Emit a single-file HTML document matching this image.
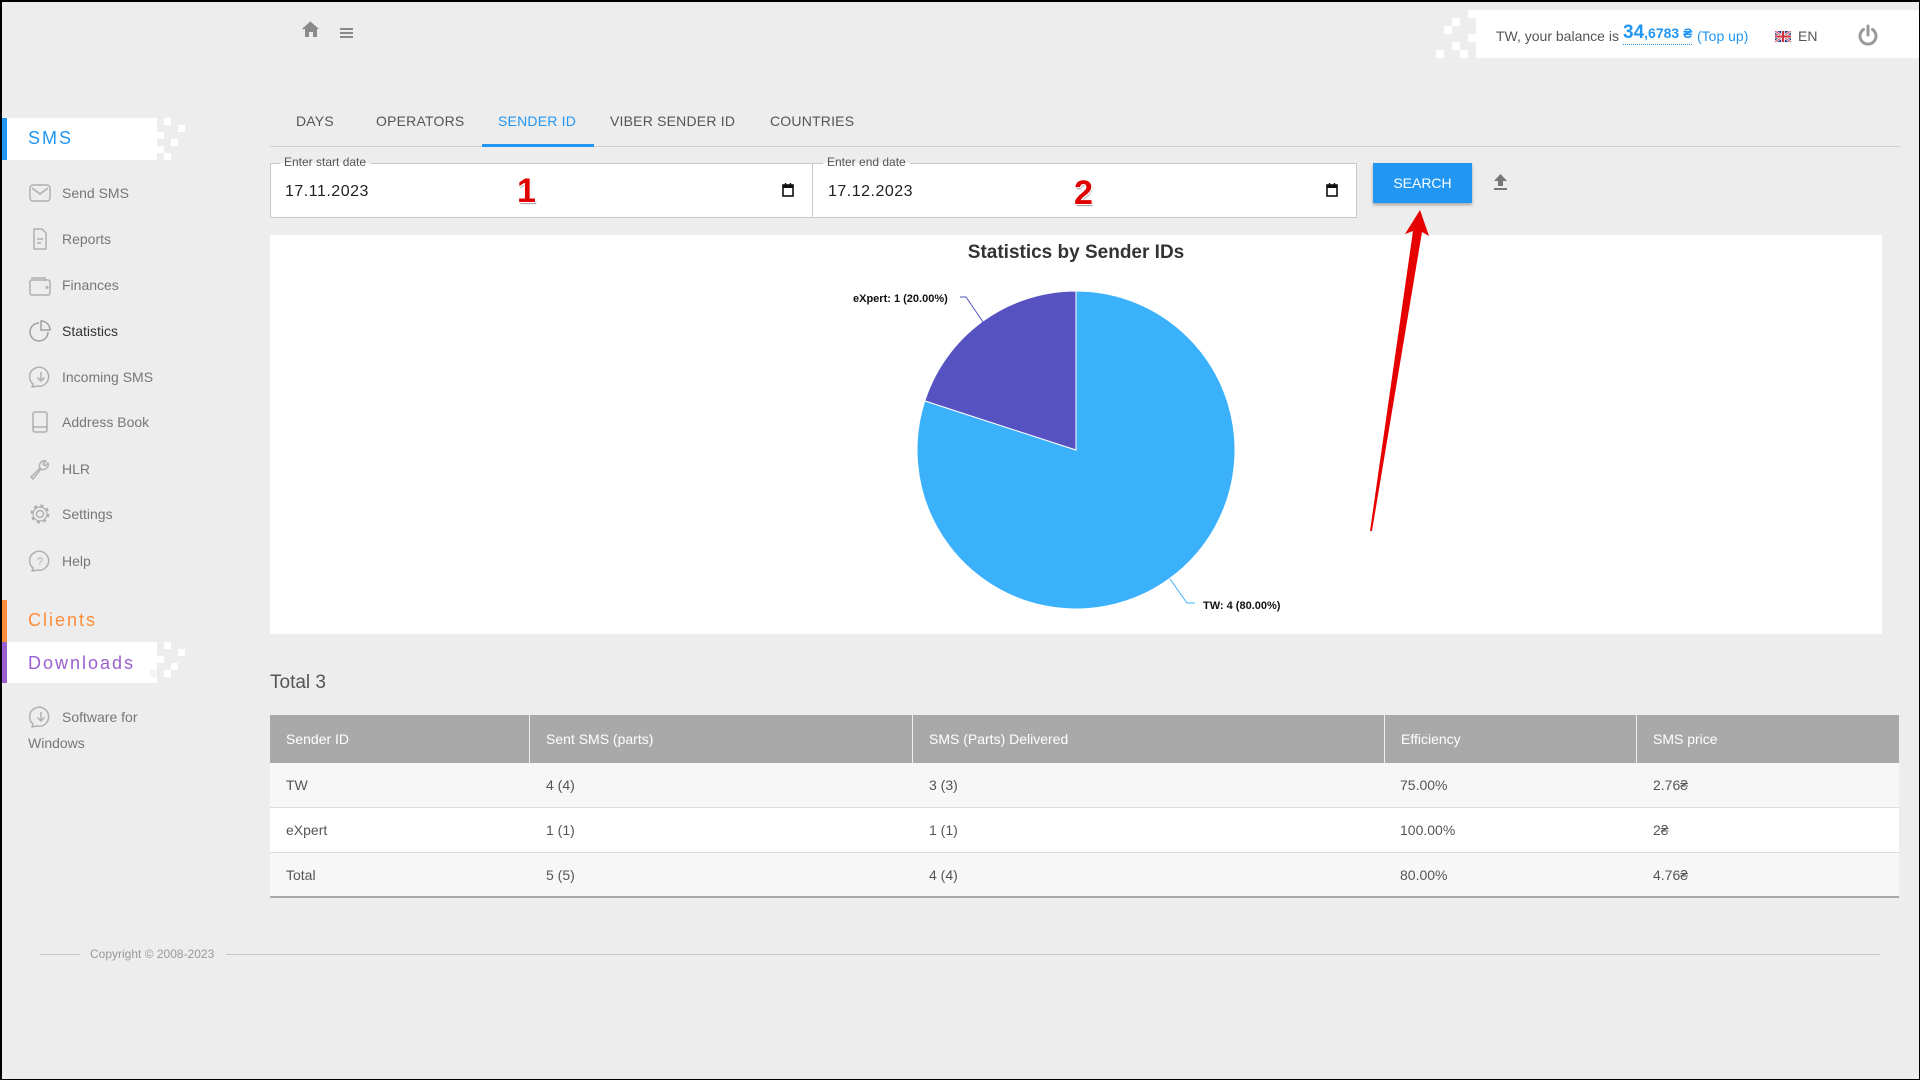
<!DOCTYPE html>
<html><head><meta charset="utf-8">
<style>
*{margin:0;padding:0;box-sizing:border-box}
html,body{width:1920px;height:1080px;overflow:hidden}
body{background:#ededed;font-family:"Liberation Sans",Arial,sans-serif;position:relative;color:#555}
.a{position:absolute}
.frame{position:absolute;left:0;top:0;width:1920px;height:1080px;border:1px solid #000;border-width:2px 1px 1px 2px;pointer-events:none;z-index:50}
.sq{position:absolute;background:#fff}
.nav{position:absolute;left:62px;font-size:14px;color:#777;line-height:16px}
.ico{position:absolute;left:29px;width:22px;height:22px}
.tab{position:absolute;top:113px;font-size:14px;color:#555;line-height:16px;letter-spacing:0.2px}
.inp{position:absolute;top:163px;height:55px;background:#fff;border:1px solid #c9c9c9}
.lbl{position:absolute;top:155px;font-size:12px;color:#555;padding:0 4px;line-height:15px;background:linear-gradient(#ededed 53%,#fff 53%)}
.val{position:absolute;top:183px;font-size:16px;color:#222;letter-spacing:0.5px;line-height:18px}
.num{position:absolute;font-size:34px;font-weight:bold;color:#e00000;line-height:34px;text-shadow:1px 1px 0 #fff,-1px 1px 0 #fff,1px 2px 1px #999}
.th{position:absolute;top:715px;height:48px;background:#a9a9a9;color:#fff;font-size:14px;line-height:48px;padding-left:16px}
.row{position:absolute;left:270px;width:1629px;height:45px;border-bottom:1px solid #dcdcdc}
.cell{position:absolute;font-size:14px;color:#555;line-height:45px}
</style></head><body>
<div class="frame"></div>

<svg class="a" style="left:302px;top:21px" width="18" height="17" viewBox="0 0 18 17">
<path d="M9 1 L1 8 L3 8 L3 16 L7 16 L7 11 L11 11 L11 16 L15 16 L15 8 L17 8 Z" fill="#8a8a8a"/>
<path d="M9 1 L1 8" stroke="#8a8a8a" stroke-width="1.5"/>
</svg>
<div class="a" style="left:340px;top:28px;width:13px;height:2px;background:#8a8a8a"></div>
<div class="a" style="left:340px;top:32px;width:13px;height:2px;background:#8a8a8a"></div>
<div class="a" style="left:340px;top:36px;width:13px;height:2px;background:#8a8a8a"></div>

<div class="a" style="left:1476px;top:10px;width:444px;height:48px;background:#fff"></div>
<div class="sq" style="left:1468px;top:10px;width:8px;height:8px"></div>
<div class="sq" style="left:1452px;top:18px;width:8px;height:8px"></div>
<div class="sq" style="left:1444px;top:26px;width:8px;height:8px"></div>
<div class="sq" style="left:1468px;top:34px;width:8px;height:8px"></div>
<div class="sq" style="left:1452px;top:42px;width:8px;height:8px"></div>
<div class="sq" style="left:1436px;top:50px;width:8px;height:8px"></div>
<div class="sq" style="left:1460px;top:50px;width:8px;height:8px"></div>
<div class="a" style="left:1496px;top:28px;font-size:14px;color:#555;line-height:16px;white-space:nowrap">TW, your balance is</div>
<div class="a" style="left:1623px;top:23px;line-height:20px;white-space:nowrap;color:#2196f3;font-weight:bold;border-bottom:1px dotted #2196f3"><span style="font-size:19px">34</span><span style="font-size:14px">,6783 ₴</span></div>
<div class="a" style="left:1697px;top:28px;font-size:14px;color:#2196f3;line-height:16px">(Top up)</div>
<svg class="a" style="left:1775px;top:31px" width="16" height="11" viewBox="0 0 16 11">
<rect width="16" height="11" fill="#2a3f8f"/>
<path d="M0 0 L16 11 M16 0 L0 11" stroke="#fff" stroke-width="2.4"/>
<path d="M0 0 L16 11 M16 0 L0 11" stroke="#d0323b" stroke-width="0.9"/>
<path d="M8 0 V11 M0 5.5 H16" stroke="#fff" stroke-width="3.6"/>
<path d="M8 0 V11 M0 5.5 H16" stroke="#d0323b" stroke-width="2"/>
</svg>
<div class="a" style="left:1798px;top:28px;font-size:14px;color:#555;line-height:16px">EN</div>
<svg class="a" style="left:1857px;top:24px" width="22" height="22" viewBox="0 0 22 22">
<path d="M6.5 5.5 A8 8 0 1 0 15.5 5.5" fill="none" stroke="#999" stroke-width="3" stroke-linecap="round"/>
<path d="M11 2 V11" stroke="#999" stroke-width="3" stroke-linecap="round"/>
</svg>

<div class="a" style="left:2px;top:118px;width:155px;height:42px;background:#fff"></div>
<div class="a" style="left:2px;top:118px;width:5px;height:42px;background:#2196f3"></div>
<div class="sq" style="left:164px;top:118px;width:7px;height:7px"></div>
<div class="sq" style="left:178px;top:125px;width:7px;height:7px"></div>
<div class="sq" style="left:157px;top:132px;width:7px;height:7px"></div>
<div class="sq" style="left:171px;top:139px;width:7px;height:7px"></div>
<div class="sq" style="left:157px;top:146px;width:7px;height:7px"></div>
<div class="sq" style="left:164px;top:153px;width:7px;height:7px"></div>
<div class="a" style="left:28px;top:127px;font-size:18px;color:#2196f3;letter-spacing:2px;line-height:22px">SMS</div>

<svg class="ico" style="top:182px" viewBox="0 0 22 22"><rect x="1" y="3" width="20" height="16" rx="3" fill="none" stroke="#b0b0b0" stroke-width="1.5"/><path d="M3 6 L11 12 L19 6" fill="none" stroke="#b0b0b0" stroke-width="1.5"/></svg>
<div class="nav" style="top:185px">Send SMS</div>
<svg class="ico" style="top:228px" viewBox="0 0 22 22"><path d="M5 1 H13 L17 5 V21 H5 Z" fill="none" stroke="#b0b0b0" stroke-width="1.5" stroke-linejoin="round"/><path d="M8 11 H14 M8 15 H12" stroke="#b0b0b0" stroke-width="1.5"/></svg>
<div class="nav" style="top:231px">Reports</div>
<svg class="ico" style="top:274px" viewBox="0 0 22 22"><path d="M2 4 H16 V7" fill="none" stroke="#b0b0b0" stroke-width="1.5"/><rect x="1" y="6" width="20" height="15" rx="2" fill="none" stroke="#b0b0b0" stroke-width="1.5"/><circle cx="18" cy="13.5" r="1.5" fill="#b0b0b0"/></svg>
<div class="nav" style="top:277px">Finances</div>
<svg class="ico" style="top:320px" viewBox="0 0 22 22"><path d="M10 3 A9 9 0 1 0 19 12" fill="none" stroke="#a0a0a0" stroke-width="1.5"/><path d="M12 1 V10 H21 A9 9 0 0 0 12 1 Z" fill="none" stroke="#a0a0a0" stroke-width="1.5"/></svg>
<div class="nav" style="top:323px;color:#333">Statistics</div>
<svg class="ico" style="top:366px" viewBox="0 0 22 22"><path d="M4 18 A9.5 9.5 0 1 1 8 20 L3 21 Z" fill="none" stroke="#b0b0b0" stroke-width="1.5" stroke-linejoin="round"/><path d="M12 6 V15 M8.5 11.5 L12 15 L15.5 11.5" fill="none" stroke="#b0b0b0" stroke-width="1.5"/></svg>
<div class="nav" style="top:369px">Incoming SMS</div>
<svg class="ico" style="top:411px" viewBox="0 0 22 22"><rect x="4" y="1" width="14" height="20" rx="2" fill="none" stroke="#b0b0b0" stroke-width="1.5"/><path d="M4 16 H18" stroke="#b0b0b0" stroke-width="1.5"/></svg>
<div class="nav" style="top:414px">Address Book</div>
<svg class="ico" style="top:458px" viewBox="0 0 22 22"><path d="M2 19 L11 10 A5 5 0 0 1 17 3 L14 6 L16 8 L19 5 A5 5 0 0 1 12 11 L4 21 Z" fill="none" stroke="#b0b0b0" stroke-width="1.5" stroke-linejoin="round"/></svg>
<div class="nav" style="top:461px">HLR</div>
<svg class="ico" style="top:503px" viewBox="0 0 22 22"><circle cx="11" cy="11" r="3.5" fill="none" stroke="#b0b0b0" stroke-width="1.5"/><circle cx="11" cy="11" r="8" fill="none" stroke="#b0b0b0" stroke-width="3" stroke-dasharray="3 3.3"/><circle cx="11" cy="11" r="7" fill="none" stroke="#b0b0b0" stroke-width="1.2"/></svg>
<div class="nav" style="top:506px">Settings</div>
<svg class="ico" style="top:550px" viewBox="0 0 22 22"><path d="M4 18 A9.5 9.5 0 1 1 8 20 L3 21 Z" fill="none" stroke="#b0b0b0" stroke-width="1.5" stroke-linejoin="round"/><text x="11" y="15" font-size="11" text-anchor="middle" fill="#b0b0b0" font-family="Liberation Sans">?</text></svg>
<div class="nav" style="top:553px">Help</div>

<div class="a" style="left:2px;top:600px;width:5px;height:42px;background:#ff8c3a"></div>
<div class="a" style="left:28px;top:609px;font-size:18px;color:#ff8c3a;letter-spacing:2px;line-height:22px">Clients</div>
<div class="a" style="left:2px;top:642px;width:155px;height:41px;background:#fff"></div>
<div class="a" style="left:2px;top:642px;width:5px;height:41px;background:#9a5fcf"></div>
<div class="sq" style="left:164px;top:642px;width:7px;height:7px"></div>
<div class="sq" style="left:178px;top:649px;width:7px;height:7px"></div>
<div class="sq" style="left:157px;top:656px;width:7px;height:7px"></div>
<div class="sq" style="left:171px;top:663px;width:7px;height:7px"></div>
<div class="sq" style="left:164px;top:670px;width:7px;height:7px"></div>
<div class="a" style="left:150px;top:670px;width:7px;height:7px;background:#f4f4f4"></div>
<div class="a" style="left:28px;top:652px;font-size:18px;color:#9a5fcf;letter-spacing:2px;line-height:22px">Downloads</div>
<svg class="ico" style="top:706px" viewBox="0 0 22 22"><path d="M4 18 A9.5 9.5 0 1 1 8 20 L3 21 Z" fill="none" stroke="#b0b0b0" stroke-width="1.5" stroke-linejoin="round"/><path d="M12 6 V15 M8.5 11.5 L12 15 L15.5 11.5" fill="none" stroke="#b0b0b0" stroke-width="1.5"/></svg>
<div class="nav" style="top:709px">Software for</div>
<div class="nav" style="top:735px;left:28px">Windows</div>

<div class="a" style="left:270px;top:146px;width:1630px;height:1px;background:#cfcfcf"></div>
<div class="tab" style="left:296px">DAYS</div>
<div class="tab" style="left:376px">OPERATORS</div>
<div class="tab" style="left:498px;color:#2196f3">SENDER ID</div>
<div class="tab" style="left:610px">VIBER SENDER ID</div>
<div class="tab" style="left:770px">COUNTRIES</div>
<div class="a" style="left:482px;top:144px;width:112px;height:3px;background:#2196f3"></div>

<div class="inp" style="left:270px;width:543px"></div>
<div class="inp" style="left:812px;width:545px"></div>
<div class="lbl" style="left:280px">Enter start date</div>
<div class="lbl" style="left:823px">Enter end date</div>
<div class="val" style="left:285px">17.11.2023</div>
<div class="val" style="left:828px">17.12.2023</div>
<div class="num" style="left:517px;top:174px">1</div>
<div class="num" style="left:1074px;top:176px">2</div>
<svg class="a" style="left:782px;top:183px" width="12" height="14" viewBox="0 0 12 14"><rect x="1" y="2" width="10" height="11" fill="none" stroke="#111" stroke-width="1.6"/><rect x="1" y="2" width="10" height="3" fill="#111"/><path d="M3.5 0 V3 M8.5 0 V3" stroke="#111" stroke-width="1.4"/></svg>
<svg class="a" style="left:1326px;top:183px" width="12" height="14" viewBox="0 0 12 14"><rect x="1" y="2" width="10" height="11" fill="none" stroke="#111" stroke-width="1.6"/><rect x="1" y="2" width="10" height="3" fill="#111"/><path d="M3.5 0 V3 M8.5 0 V3" stroke="#111" stroke-width="1.4"/></svg>

<div class="a" style="left:1373px;top:163px;width:99px;height:40px;background:#2196f3;color:#fff;font-size:14px;line-height:40px;text-align:center;box-shadow:0 2px 3px rgba(0,0,0,0.3)">SEARCH</div>
<svg class="a" style="left:1493px;top:173px" width="15" height="18" viewBox="0 0 15 18"><path d="M7.5 1 L14 8 L10 8 L10 13 L5 13 L5 8 L1 8 Z" fill="#777"/><rect x="1" y="15" width="13" height="2" fill="#777"/></svg>

<div class="a" style="left:270px;top:235px;width:1612px;height:399px;background:#fff"></div>
<div class="a" style="left:876px;top:242px;width:400px;text-align:center;font-size:19px;font-weight:bold;color:#333;line-height:22px">Statistics by Sender IDs</div>
<svg class="a" style="left:0;top:0" width="1920" height="1080" viewBox="0 0 1920 1080">
<path d="M1076 450 L924.8 400.9 A159 159 0 1 0 1076 291 Z" fill="#3cb1fb" stroke="#fff" stroke-width="1"/>
<path d="M1076 450 L1076 291 A159 159 0 0 0 924.8 400.9 Z" fill="#5652c2" stroke="#fff" stroke-width="1"/>
<path d="M960 297 L966 297 L983 322" fill="none" stroke="#5652c2" stroke-width="1"/>
<path d="M1170 579 L1187 603 L1195 603" fill="none" stroke="#3cb1fb" stroke-width="1"/>
<text x="853" y="302" font-family="Liberation Sans" font-size="11" font-weight="bold" fill="#111">eXpert: 1 (20.00%)</text>
<text x="1203" y="609" font-family="Liberation Sans" font-size="11" font-weight="bold" fill="#111">TW: 4 (80.00%)</text>
<polygon points="1420,210 1429,236 1422,232 1372,531 1370,531 1413,231 1405,234" fill="#e60000"/>
</svg>

<div class="a" style="left:270px;top:672px;font-size:19px;color:#555;line-height:22px">Total 3</div>

<div class="th" style="left:270px;width:259px">Sender ID</div>
<div class="th" style="left:530px;width:382px">Sent SMS (parts)</div>
<div class="th" style="left:913px;width:471px">SMS (Parts) Delivered</div>
<div class="th" style="left:1385px;width:251px">Efficiency</div>
<div class="th" style="left:1637px;width:262px">SMS price</div>
<div class="a" style="left:529px;top:715px;width:1px;height:48px;background:#eee"></div>
<div class="a" style="left:912px;top:715px;width:1px;height:48px;background:#eee"></div>
<div class="a" style="left:1384px;top:715px;width:1px;height:48px;background:#eee"></div>
<div class="a" style="left:1636px;top:715px;width:1px;height:48px;background:#eee"></div>

<div class="row" style="top:763px;background:#f7f7f7"></div>
<div class="row" style="top:808px;background:#fff"></div>
<div class="row" style="top:853px;background:#f7f7f7;border-bottom:2px solid #a9a9a9"></div>

<div class="cell" style="left:286px;top:763px">TW</div>
<div class="cell" style="left:546px;top:763px">4 (4)</div>
<div class="cell" style="left:929px;top:763px">3 (3)</div>
<div class="cell" style="left:1400px;top:763px">75.00%</div>
<div class="cell" style="left:1653px;top:763px">2.76₴</div>

<div class="cell" style="left:286px;top:808px">eXpert</div>
<div class="cell" style="left:546px;top:808px">1 (1)</div>
<div class="cell" style="left:929px;top:808px">1 (1)</div>
<div class="cell" style="left:1400px;top:808px">100.00%</div>
<div class="cell" style="left:1653px;top:808px">2₴</div>

<div class="cell" style="left:286px;top:853px">Total</div>
<div class="cell" style="left:546px;top:853px">5 (5)</div>
<div class="cell" style="left:929px;top:853px">4 (4)</div>
<div class="cell" style="left:1400px;top:853px">80.00%</div>
<div class="cell" style="left:1653px;top:853px">4.76₴</div>

<div class="a" style="left:40px;top:954px;width:40px;height:1px;background:#c8c8c8"></div>
<div class="a" style="left:90px;top:947px;font-size:12px;color:#999;line-height:15px">Copyright © 2008-2023</div>
<div class="a" style="left:226px;top:954px;width:1654px;height:1px;background:#c8c8c8"></div>
</body></html>
